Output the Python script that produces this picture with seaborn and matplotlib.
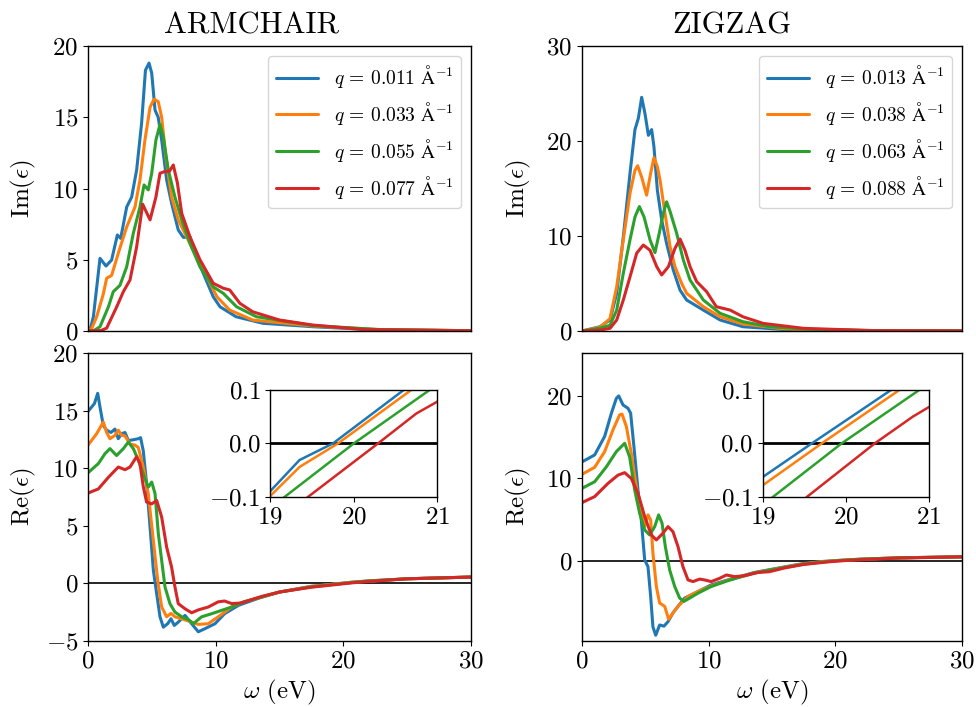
import numpy as np
import pandas as pd
import matplotlib
matplotlib.use("Agg")
import matplotlib.pyplot as plt
import seaborn as sns

# ---------------- data ----------------
ARM_LABELS = ["0.011", "0.033", "0.055", "0.077"]
ZIG_LABELS = ["0.013", "0.038", "0.063", "0.088"]
COLORS = ["#1f77b4", "#ff7f0e", "#2ca02c", "#d62728"]

# Armchair, Im(eps)
arm_im_x0 = [0, 0.2, 0.42, 0.7, 0.94, 1.41, 1.85, 2.3, 2.56, 3.03, 3.42, 3.81, 4.2, 4.5, 4.78, 4.99, 5.25, 5.5, 5.77, 6.16, 6.55, 7.07, 7.47, 7.99, 8.38, 9.03, 9.81, 10.34, 11.6, 13.7, 17.6, 22.9, 30]
arm_im_y0 = [0, 0.2, 1.0, 3.2, 5.1, 4.56, 4.98, 6.74, 6.5, 8.7, 9.4, 11.3, 14.6, 18.3, 18.8, 18.1, 15.5, 15.0, 13.4, 10.6, 8.96, 7.09, 6.57, 6.6, 5.45, 4.05, 2.4, 1.7, 1.0, 0.54, 0.3, 0.07, 0.02]
arm_im_x1 = [0, 0.3, 0.68, 1.2, 1.46, 1.85, 2.37, 3.03, 3.68, 4.07, 4.46, 4.86, 5.17, 5.5, 5.77, 6.1, 6.55, 7.07, 7.73, 8.5, 9.3, 10.1, 11.1, 12.9, 17.6, 22.9, 30]
arm_im_y1 = [0, 0.2, 1.0, 2.6, 3.7, 3.9, 5.45, 7.3, 8.7, 10.6, 13.4, 15.7, 16.26, 16.1, 15.0, 12.2, 9.4, 7.8, 6.6, 5.2, 3.8, 2.4, 1.47, 0.77, 0.35, 0.09, 0.02]
arm_im_x2 = [0, 0.5, 0.94, 1.6, 1.98, 2.5, 3.03, 3.55, 4.07, 4.39, 4.72, 4.99, 5.32, 5.64, 5.9, 6.29, 6.81, 7.34, 7.99, 8.77, 9.81, 10.6, 11.64, 13.2, 17.6, 22.9, 30]
arm_im_y2 = [0, 0.05, 0.3, 1.7, 2.76, 3.2, 4.5, 6.86, 8.7, 10.25, 9.9, 11.07, 13.4, 14.5, 13.6, 11.3, 9.4, 7.8, 6.15, 4.5, 3.1, 2.64, 1.7, 1.0, 0.38, 0.1, 0.02]
arm_im_x3 = [0, 1.0, 1.46, 2.25, 2.77, 3.29, 3.81, 4.28, 4.86, 5.32, 5.64, 6.03, 6.37, 6.68, 7.0, 7.34, 7.99, 8.77, 9.81, 10.6, 11.1, 11.9, 12.9, 15.0, 17.6, 21.6, 30]
arm_im_y3 = [0, 0.03, 0.2, 1.7, 2.76, 3.58, 5.9, 8.9, 7.8, 9.4, 11.07, 11.2, 11.2, 11.65, 10.4, 8.26, 6.6, 5.0, 3.35, 3.0, 2.88, 1.94, 1.35, 0.77, 0.42, 0.1, 0.02]

# Zigzag, Im(eps)
zig_im_x0 = [0, 1.42, 2.21, 2.74, 3.26, 3.79, 4.18, 4.45, 4.71, 4.97, 5.24, 5.5, 5.68, 5.95, 6.29, 6.68, 7.21, 7.74, 8.26, 9.58, 10.9, 12.7, 16, 22, 30]
zig_im_y0 = [0, 0.45, 1.16, 3.97, 9.9, 16.6, 21.2, 22.4, 24.6, 22.9, 20.6, 21.2, 19.4, 14.8, 11.7, 9.2, 6.4, 4.3, 3.26, 2.2, 1.16, 0.45, 0.15, 0.04, 0.01]
zig_im_x1 = [0, 1.42, 2.21, 2.74, 3.26, 3.79, 4.18, 4.39, 4.71, 5.1, 5.42, 5.68, 5.95, 6.16, 6.55, 6.95, 7.34, 7.87, 8.26, 9.58, 10.9, 12.7, 16, 22, 30]
zig_im_y1 = [0, 0.4, 1.3, 4.66, 9.6, 14.5, 16.9, 17.4, 16.2, 14.3, 16.6, 18.25, 17.3, 15.9, 12.4, 8.9, 6.77, 5.0, 3.97, 2.56, 1.5, 0.74, 0.22, 0.05, 0.01]
zig_im_x2 = [0, 1.42, 2.21, 2.74, 3.26, 3.79, 4.18, 4.53, 4.9, 5.37, 5.76, 6.1, 6.42, 6.68, 6.95, 7.47, 8.0, 8.53, 9.58, 10.9, 12.7, 14.8, 18, 23, 30]
zig_im_y2 = [0, 0.3, 0.6, 2.2, 6.07, 9.6, 12.0, 13.1, 12.0, 9.6, 8.25, 10.3, 12.4, 13.6, 12.6, 10.3, 7.47, 5.37, 3.26, 1.86, 0.98, 0.45, 0.18, 0.05, 0.01]
zig_im_x3 = [0, 1.42, 2.21, 2.74, 3.26, 3.79, 4.32, 4.84, 5.37, 5.9, 6.29, 6.82, 7.34, 7.74, 8.13, 8.53, 9.05, 9.84, 10.6, 11.7, 12.7, 14.3, 17.5, 22.7, 30]
zig_im_y3 = [0, 0.1, 0.28, 1.16, 3.26, 5.7, 8.2, 9.05, 8.5, 6.77, 5.9, 6.77, 8.7, 9.68, 8.5, 6.77, 5.2, 4.14, 2.56, 2.2, 1.5, 0.8, 0.28, 0.05, 0.01]

# Armchair, Re(eps)
arm_re_x0 = [0, 0.5, 0.76, 0.94, 1.2, 1.46, 1.8, 2.11, 2.37, 2.64, 2.9, 3.16, 3.55, 3.94, 4.12, 4.33, 4.59, 4.86, 5.12, 5.38, 5.64, 5.9, 6.24, 6.5, 6.76, 7.07, 7.6, 8.12, 8.64, 9.16, 9.95, 10.7, 11.8, 13.6, 15, 17.5, 19.0, 19.35, 19.75, 20.6, 22, 25, 30]
arm_re_y0 = [14.93, 15.6, 16.5, 15.3, 13.7, 13.3, 13.1, 13.4, 12.56, 13.0, 13.1, 12.4, 12.47, 12.56, 12.65, 11.5, 8.65, 4.9, 1.13, -0.9, -2.9, -3.8, -3.5, -3.07, -3.65, -3.36, -2.78, -3.5, -4.2, -3.93, -3.5, -2.63, -1.9, -1.19, -0.75, -0.25, -0.089, -0.031, 0.0, 0.1, 0.22, 0.4, 0.55]
arm_re_x1 = [0, 0.68, 1.2, 1.46, 1.72, 2.11, 2.37, 2.64, 2.9, 3.29, 3.68, 3.94, 4.33, 4.72, 5.12, 5.46, 5.77, 6.16, 6.5, 6.81, 7.34, 8.12, 8.64, 9.42, 10.2, 11.25, 12.2, 13.6, 15, 17.5, 19.0, 19.35, 19.81, 20.69, 22, 25, 30]
arm_re_y1 = [12.0, 13.0, 14.0, 13.1, 12.56, 12.85, 13.3, 12.85, 12.8, 12.1, 12.0, 11.8, 10.1, 7.8, 3.7, 0.26, -2.05, -2.9, -2.6, -2.9, -3.07, -3.36, -3.56, -3.5, -2.9, -2.05, -1.6, -1.19, -0.75, -0.26, -0.098, -0.044, 0.0, 0.1, 0.21, 0.4, 0.55]
arm_re_x2 = [0, 0.81, 1.33, 1.72, 2.24, 2.77, 3.16, 3.55, 3.94, 4.33, 4.72, 4.99, 5.25, 5.51, 5.77, 6.03, 6.42, 6.81, 7.34, 7.86, 8.25, 8.9, 9.69, 10.47, 11.25, 12.2, 13.6, 15, 17.5, 19.17, 20.0, 20.91, 22, 25, 30]
arm_re_y2 = [9.6, 10.4, 11.26, 11.7, 11.1, 11.7, 12.27, 11.7, 10.7, 9.5, 8.36, 8.8, 7.8, 4.3, 2.0, -0.3, -1.76, -2.49, -2.9, -3.15, -3.5, -2.9, -2.63, -2.34, -2.05, -1.6, -1.19, -0.75, -0.3, -0.1, 0.0, 0.1, 0.2, 0.4, 0.55]
arm_re_x3 = [0, 0.81, 1.59, 2.37, 2.9, 3.29, 3.81, 4.07, 4.33, 4.59, 4.99, 5.38, 5.77, 6.16, 6.55, 6.81, 7.07, 7.6, 8.12, 8.64, 9.42, 10.2, 10.7, 11.25, 12.0, 13.6, 15, 17.5, 19.45, 20.29, 20.75, 21.0, 22, 25, 30]
arm_re_y3 = [7.84, 8.2, 9.2, 10.1, 9.87, 10.1, 11.0, 10.4, 8.4, 7.06, 6.9, 7.2, 5.76, 3.15, 1.4, -0.3, -1.76, -2.2, -2.55, -2.3, -2.05, -1.6, -1.53, -1.75, -1.7, -1.13, -0.75, -0.33, -0.1, 0.0, 0.056, 0.078, 0.17, 0.4, 0.55]

# Zigzag, Re(eps)
zig_re_x0 = [0, 1.0, 1.79, 2.32, 2.71, 2.9, 3.24, 3.63, 3.84, 4.1, 4.42, 4.68, 4.95, 5.21, 5.42, 5.6, 5.82, 6.13, 6.47, 6.79, 7.18, 7.58, 8.1, 8.9, 10.2, 11.5, 13.6, 16, 17.5, 19.0, 19.59, 20.55, 22, 25, 30]
zig_re_y0 = [12.0, 12.85, 15.1, 17.9, 19.7, 20.0, 18.9, 18.5, 17.9, 13.85, 8.6, 4.97, 0.12, -0.7, -4.3, -8.0, -9.0, -7.76, -7.9, -7.36, -6.3, -5.5, -4.5, -3.9, -2.9, -2.3, -1.4, -0.72, -0.3, -0.0625, 0.0, 0.1, 0.22, 0.38, 0.5]
zig_re_x1 = [0, 1.0, 1.79, 2.45, 2.97, 3.16, 3.5, 3.89, 4.29, 4.68, 4.95, 5.21, 5.42, 5.6, 5.87, 6.13, 6.53, 6.84, 7.18, 7.58, 8.37, 9.16, 10.2, 11.5, 13.6, 16, 17.5, 19.0, 19.71, 20.65, 22, 25, 30]
zig_re_y1 = [10.5, 11.35, 13.25, 15.9, 17.7, 17.8, 16.3, 13.05, 9.0, 5.78, 4.16, 5.58, 4.97, 0.93, -3.1, -5.1, -5.5, -7.07, -6.3, -5.5, -4.3, -3.7, -3.03, -2.35, -1.45, -0.75, -0.35, -0.078, 0.0, 0.1, 0.21, 0.38, 0.5]
zig_re_x2 = [0, 1.0, 1.92, 2.71, 3.37, 3.76, 4.16, 4.55, 4.95, 5.34, 5.74, 6.05, 6.32, 6.58, 6.92, 7.32, 7.71, 8.05, 8.5, 9.16, 10.2, 11.5, 13.6, 16, 17.5, 19.12, 19.95, 20.89, 22, 25, 30]
zig_re_y2 = [8.8, 9.6, 11.4, 13.25, 14.26, 12.6, 8.6, 5.78, 3.76, 3.15, 4.16, 5.58, 4.57, 1.73, -1.09, -3.1, -4.5, -4.9, -4.5, -3.9, -3.1, -2.4, -1.45, -0.78, -0.4, -0.1, 0.0, 0.1, 0.2, 0.38, 0.5]
zig_re_x3 = [0, 1.0, 2.05, 2.84, 3.37, 3.89, 4.42, 4.95, 5.47, 5.87, 6.39, 6.79, 7.18, 7.58, 7.97, 8.37, 8.76, 9.29, 9.68, 10.2, 10.87, 11.4, 12.05, 12.8, 13.9, 14.8, 16, 17.5, 19.53, 20.35, 20.81, 21.0, 22, 25, 30]
zig_re_y3 = [7.07, 7.8, 9.4, 10.4, 10.7, 10.0, 8.2, 5.37, 3.15, 2.55, 3.36, 4.16, 3.55, 1.73, -0.7, -2.3, -2.5, -2.2, -2.3, -2.5, -2.1, -1.7, -1.9, -1.8, -1.4, -1.3, -0.85, -0.42, -0.1, 0.0, 0.05, 0.0675, 0.15, 0.35, 0.5]

X_TICKS = [0, 10, 20, 30]
INSET_XTICKS = [19, 20, 21]
INSET_YTICKS = [-0.1, 0.0, 0.1]


def make_df(xs, ys, labels):
    frames = []
    for x, y, lab in zip(xs, ys, labels):
        frames.append(pd.DataFrame({"omega": x, "eps": y, "q": lab}))
    return pd.concat(frames, ignore_index=True)


df_arm_im = make_df([arm_im_x0, arm_im_x1, arm_im_x2, arm_im_x3],
                    [arm_im_y0, arm_im_y1, arm_im_y2, arm_im_y3], ARM_LABELS)
df_zig_im = make_df([zig_im_x0, zig_im_x1, zig_im_x2, zig_im_x3],
                    [zig_im_y0, zig_im_y1, zig_im_y2, zig_im_y3], ZIG_LABELS)
df_arm_re = make_df([arm_re_x0, arm_re_x1, arm_re_x2, arm_re_x3],
                    [arm_re_y0, arm_re_y1, arm_re_y2, arm_re_y3], ARM_LABELS)
df_zig_re = make_df([zig_re_x0, zig_re_x1, zig_re_x2, zig_re_x3],
                    [zig_re_y0, zig_re_y1, zig_re_y2, zig_re_y3], ZIG_LABELS)

# ---------------- style ----------------
sns.set_style("ticks")
plt.rcParams.update({
    "font.family": ["cmr10", "DejaVu Serif"],
    "mathtext.fontset": "cm",
    "axes.formatter.use_mathtext": True,
    "axes.unicode_minus": True,
    "axes.edgecolor": "black",
    "axes.linewidth": 1.0,
    "xtick.color": "black",
    "ytick.color": "black",
    "xtick.labelsize": 18,
    "ytick.labelsize": 18,
    "xtick.direction": "out",
    "ytick.direction": "out",
    "axes.labelsize": 18,
    "axes.titlesize": 22,
    "text.color": "black",
    "axes.labelcolor": "black",
    "lines.solid_joinstyle": "round",
    "lines.solid_capstyle": "round",
})

fig = plt.figure(figsize=(9.76, 7.07), dpi=100)
W, H = 976.0, 707.0


def add_ax(l, r, t, b):
    return fig.add_axes([l / W, 1 - b / H, (r - l) / W, (b - t) / H])


ax_ai = add_ax(88, 471, 46, 331)
ax_zi = add_ax(582, 962, 46, 331)
ax_ar = add_ax(88, 471, 353, 641)
ax_zr = add_ax(582, 962, 353, 641)


def draw(ax, df, labels, lw=2.2):
    sns.lineplot(data=df, x="omega", y="eps", hue="q", hue_order=labels,
                 palette=COLORS, estimator=None, sort=False, lw=lw,
                 legend=False, ax=ax)


def legend(ax, labels):
    handles = ax.lines[:4]
    texts = [r"$q\,=\,%s\ \mathrm{\AA}^{-1}$" % s for s in labels]
    ax.legend(handles, texts, loc="upper right", fontsize=14,
              frameon=True, handlelength=2.2)


for ax, df, labels, ylim in [(ax_ai, df_arm_im, ARM_LABELS, (0, 20)),
                             (ax_zi, df_zig_im, ZIG_LABELS, (0, 30))]:
    draw(ax, df, labels)
    ax.set_xlim(0, 30)
    ax.set_ylim(*ylim)
    ax.set_xticks(X_TICKS)
    ax.set_xticklabels([])
    ax.tick_params(axis="x", length=0)
    ax.set_xlabel("")
    ax.set_ylabel(r"Im($\epsilon$)")
    legend(ax, labels)

ax_ai.set_yticks([0, 5, 10, 15, 20])
ax_zi.set_yticks([0, 10, 20, 30])
ax_ai.set_title("ARMCHAIR", pad=9, x=0.428)
ax_zi.set_title("ZIGZAG", pad=9, x=0.395)

for ax, df, labels, ylim, yt in [(ax_ar, df_arm_re, ARM_LABELS, (-5, 20), [-5, 0, 5, 10, 15, 20]),
                                 (ax_zr, df_zig_re, ZIG_LABELS, (-9.7, 25.2), [0, 10, 20])]:
    ax.axhline(0, color="black", lw=1.2, zorder=1)
    draw(ax, df, labels)
    ax.set_xlim(0, 30)
    ax.set_ylim(*ylim)
    ax.set_xticks(X_TICKS)
    ax.set_yticks(yt)
    ax.set_xlabel(r"$\omega$ (eV)")
    ax.set_ylabel(r"Re($\epsilon$)")

    ins = ax.inset_axes([0.476, 0.5, 0.436, 0.372])
    ins.axhline(0, color="black", lw=2.0, zorder=1)
    draw(ins, df, labels, lw=1.8)
    ins.set_xlim(19, 21)
    ins.set_ylim(-0.1, 0.1)
    ins.set_xticks(INSET_XTICKS)
    ins.set_yticks(INSET_YTICKS)
    ins.set_yticklabels(["$-0.1$", "$0.0$", "$0.1$"])
    ins.set_xticklabels(["$19$", "$20$", "$21$"])
    ins.tick_params(labelsize=18)
    ins.set_xlabel("")
    ins.set_ylabel("")

for ax in [ax_ai, ax_zi, ax_ar, ax_zr]:
    ax.yaxis.set_label_coords(-0.13, 0.5)

fig.savefig("out.png", dpi=100)
